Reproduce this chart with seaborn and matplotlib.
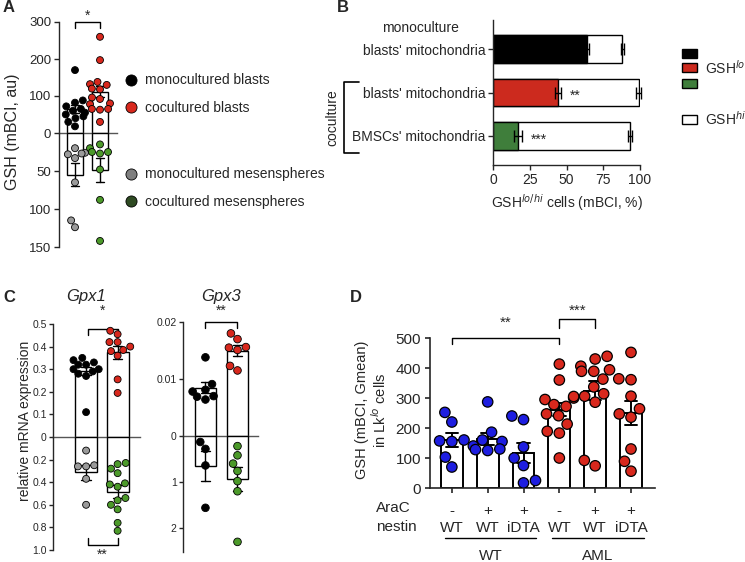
import warnings
import matplotlib
matplotlib.use("Agg")
import matplotlib.pyplot as plt
from matplotlib.patches import Rectangle
from matplotlib.lines import Line2D
import pandas as pd
import seaborn as sns

warnings.filterwarnings("ignore")

# ------------------------------------------------------------------
# data
# ------------------------------------------------------------------
# A - GSH (mBCI, au); blasts above the zero line, mesenspheres below
a_groups = ["mono", "co"]
a_blast_mono = [170, 88, 82, 72, 65, 60, 55, 50, 45, 40, 30, 18]
a_blast_co = [260, 197, 138, 132, 130, 120, 118, 96, 92, 80, 78, 65, 65, 63, 30]
a_mes_mono = [20, 26, 27, 28, 33, 65, 115, 124]
a_mes_co = [15, 20, 25, 25, 27, 48, 88, 142]
a_legend = ["monocultured blasts", "cocultured blasts",
            "monocultured mesenspheres", "cocultured mesenspheres"]

# B - GSH lo / hi cells (%)
b_keys = ["mono", "co_blast", "co_bmsc"]
b_ticklabels = ["blasts' mitochondria", "blasts' mitochondria", "BMSCs' mitochondria"]
b_lo = [64, 44, 17]
b_lo_err = [1.5, 2.0, 2.5]
b_total = [88, 99, 93]
b_total_err = [1.0, 1.5, 1.5]
b_stars = ["", "**", "***"]

# C - relative mRNA expression
gpx1_top_mono = [0.35, 0.34, 0.33, 0.32, 0.32, 0.30, 0.30, 0.29, 0.28, 0.27, 0.11]
gpx1_top_co = [0.47, 0.455, 0.42, 0.42, 0.40, 0.385, 0.38, 0.36, 0.255, 0.195]
gpx1_bot_mono = [0.12, 0.25, 0.26, 0.26, 0.37, 0.60]
gpx1_bot_co = [0.23, 0.24, 0.28, 0.32, 0.41, 0.42, 0.44, 0.54, 0.56, 0.60, 0.64, 0.76, 0.83]
gpx3_top_mono = [0.0138, 0.0091, 0.0081, 0.0078, 0.0070, 0.0069, 0.0064]
gpx3_top_co = [0.018, 0.017, 0.0156, 0.0155, 0.0151, 0.0123, 0.0115]
gpx3_bot_mono = [0.13, 0.28, 0.64, 1.56]
gpx3_bot_co = [0.22, 0.42, 0.60, 0.76, 0.98, 1.2, 2.3]

# D - GSH (mBCI, Gmean) in Lk-lo cells
d_keys = ["g1", "g2", "g3", "g4", "g5", "g6"]
d_arac = ["-", "+", "+", "-", "+", "+"]
d_nestin = ["WT", "WT", "iDTA", "WT", "WT", "iDTA"]
d_values = [
    [252, 220, 160, 157, 155, 103, 70],
    [287, 186, 160, 155, 140, 130, 128, 125],
    [240, 228, 137, 100, 75, 17, 25],
    [413, 360, 300, 295, 305, 272, 278, 247, 241, 213, 183, 189, 100],
    [439, 430, 406, 394, 389, 389, 363, 337, 306, 314, 286, 92, 74],
    [452, 361, 364, 306, 264, 247, 236, 130, 89, 56],
]

RED = "#d8281d"
GRAY = "#9a9a9a"
GREEN = "#4c9a2a"
BLUE = "#1e1ee0"

sns.set_style("ticks")
plt.rcParams["font.family"] = ["Liberation Sans", "DejaVu Sans"]
plt.rcParams["axes.linewidth"] = 1.0
plt.rcParams["xtick.major.width"] = 1.0
plt.rcParams["ytick.major.width"] = 1.0
plt.rcParams["xtick.major.size"] = 3.5
plt.rcParams["ytick.major.size"] = 3.5

W, H = 745, 562
fig = plt.figure(figsize=(W / 100, H / 100), dpi=100)


def box(l, t, r, b):
    return [l / W, 1 - b / H, (r - l) / W, (b - t) / H]


def fx(p):
    return p / W


def fy(p):
    return 1 - p / H


def long_df(groups, series):
    return pd.DataFrame({
        "group": [g for g, s in zip(groups, series) for _ in s],
        "val": [v for s in series for v in s],
    })


def bars_and_dots(ax, df, colors, dot, width, lw=1.0):
    sns.barplot(data=df, x="group", y="val", color="white", edgecolor="black",
                linewidth=lw, width=width, errorbar="se", capsize=0.3,
                err_kws={"color": "black", "linewidth": lw}, ax=ax)
    sns.swarmplot(data=df, x="group", y="val", hue="group",
                  palette=dict(zip(df["group"].unique(), colors)),
                  size=dot, edgecolor="black", linewidth=0.6, legend=False, ax=ax)
    ax.set_xlabel("")
    ax.set_ylabel("")


def split_style(top, bot, zero_color="#555555"):
    for a in (top, bot):
        a.spines["top"].set_visible(False)
        a.spines["right"].set_visible(False)
        a.tick_params(axis="x", length=0, labelbottom=False)
        a.set_facecolor("none")
    top.spines["bottom"].set_color(zero_color)
    bot.spines["bottom"].set_visible(False)


def bracket(ax, x0, x1, y, drop, label, ty, fs=10):
    ax.plot([x0, x0, x1, x1], [y - drop, y, y, y - drop], color="black", lw=1, clip_on=False)
    ax.text((x0 + x1) / 2, ty, label, ha="center", va="center", fontsize=fs)


# ------------------------------------------------------------------
# A
# ------------------------------------------------------------------
ax_at = fig.add_axes(box(59, 22, 117, 133))
ax_ab = fig.add_axes(box(59, 133, 117, 247))
bars_and_dots(ax_at, long_df(a_groups, [a_blast_mono, a_blast_co]), ["black", RED], 5.0, 0.64)
bars_and_dots(ax_ab, long_df(a_groups, [a_mes_mono, a_mes_co]), [GRAY, GREEN], 5.0, 0.64)
for a in (ax_at, ax_ab):
    a.set_xlim(-0.64, 1.68)
ax_at.set_ylim(0, 300)
ax_at.set_yticks([0, 100, 200, 300])
ax_ab.set_ylim(150, 0)
ax_ab.set_yticks([50, 100, 150])
split_style(ax_at, ax_ab)
for a in (ax_at, ax_ab):
    a.tick_params(axis="y", labelsize=9.5, pad=2)
bracket(ax_at, 0, 1, 300, 17, "*", 318)
fig.text(fx(13), fy(132), "GSH (mBCI, au)", rotation=90, ha="center", va="center", fontsize=11.5)

leg_handles = [Line2D([], [], marker="o", ls="none", markersize=8, markerfacecolor=c,
                      markeredgecolor="black", markeredgewidth=0.6)
               for c in ["black", RED, "#7f7f7f", "#2e4a22"]]
for hs, ls, yc in [(leg_handles[:2], a_legend[:2], 94), (leg_handles[2:], a_legend[2:], 188)]:
    fig.legend(hs, ls, loc="center left", bbox_to_anchor=(fx(124), fy(yc)),
               bbox_transform=fig.transFigure, frameon=False, fontsize=10,
               borderpad=0, borderaxespad=0, handlelength=1.0, handletextpad=0.5,
               labelspacing=0.95)

# ------------------------------------------------------------------
# B
# ------------------------------------------------------------------
ax_b = fig.add_axes(box(493, 20, 640, 165))
b_df = pd.DataFrame({"row": b_keys, "lo": b_lo, "total": b_total})
sns.barplot(data=b_df, y="row", x="total", color="white", edgecolor="black", linewidth=1,
            width=0.64, orient="h", errorbar=None, ax=ax_b)
sns.barplot(data=b_df, y="row", x="lo", hue="row",
            palette=dict(zip(b_keys, ["black", "#cc2a1e", "#3f7e3b"])), saturation=1,
            edgecolor="black", linewidth=1, width=0.64, orient="h", errorbar=None,
            legend=False, ax=ax_b)
ax_b.errorbar(b_total, range(3), xerr=b_total_err, fmt="none", ecolor="black",
              elinewidth=1, capsize=4.5, clip_on=False)
ax_b.errorbar(b_lo, range(3), xerr=b_lo_err, fmt="none", ecolor="black",
              elinewidth=1, capsize=4.5, clip_on=False)
for i, s in enumerate(b_stars):
    if s:
        ax_b.text(b_lo[i] + b_lo_err[i] + 6, i + 0.08, s, ha="left", va="center", fontsize=10)
ax_b.set_xlim(0, 100)
ax_b.set_ylim(2.667, -0.667)
ax_b.set_xticks([0, 25, 50, 75, 100])
ax_b.set_yticks(range(3))
ax_b.set_yticklabels(b_ticklabels)
ax_b.tick_params(labelsize=10, pad=2)
ax_b.set_ylabel("")
ax_b.set_xlabel("GSH$^{lo/hi}$ cells (mBCI, %)", fontsize=10, labelpad=4)
sns.despine(ax=ax_b)
ax_b.text(-0.49, -0.48, "monoculture", transform=ax_b.get_yaxis_transform(),
          ha="center", va="center", fontsize=10)
fig.add_artist(Line2D([fx(359), fx(344), fx(344), fx(359)], [fy(82), fy(82), fy(153), fy(153)],
                      color="black", lw=1.2))
fig.text(fx(332), fy(118), "coculture", rotation=90, ha="center", va="center", fontsize=10)

for yc, c in [(53, "black"), (68, "#cc2a1e"), (83, "#3f7e3b"), (119, "white")]:
    fig.add_artist(Rectangle((fx(682), fy(yc + 4.5)), 15 / W, 9 / H, transform=fig.transFigure,
                             facecolor=c, edgecolor="black", lw=1))
fig.text(fx(705), fy(68), "GSH$^{lo}$", ha="left", va="center", fontsize=10)
fig.text(fx(705), fy(119), "GSH$^{hi}$", ha="left", va="center", fontsize=10)

# ------------------------------------------------------------------
# C
# ------------------------------------------------------------------
ax_c1t = fig.add_axes(box(53, 324, 140, 437))
ax_c1b = fig.add_axes(box(53, 437, 140, 550))
bars_and_dots(ax_c1t, long_df(a_groups, [gpx1_top_mono, gpx1_top_co]), ["black", RED], 5, 0.7)
bars_and_dots(ax_c1b, long_df(a_groups, [gpx1_bot_mono, gpx1_bot_co]), [GRAY, GREEN], 5, 0.7)
for a in (ax_c1t, ax_c1b):
    a.set_xlim(-1.05, 1.71)
ax_c1t.set_ylim(0, 0.5)
ax_c1t.set_yticks([0, 0.1, 0.2, 0.3, 0.4, 0.5])
ax_c1t.set_yticklabels(["0", "0.1", "0.2", "0.3", "0.4", "0.5"])
ax_c1b.set_ylim(1.0, 0)
ax_c1b.set_yticks([0.2, 0.4, 0.6, 0.8, 1.0])
ax_c1b.set_yticklabels(["0.2", "0.4", "0.6", "0.8", "1.0"])
split_style(ax_c1t, ax_c1b)
bracket(ax_c1t, 0.05, 1, 0.478, 0.025, "*", 0.56)
ax_c1b.plot([0.05, 0.05, 1, 1], [0.895, 0.955, 0.955, 0.895], color="black", lw=1, clip_on=False)
ax_c1b.text(0.52, 1.045, "**", ha="center", va="center", fontsize=10)

ax_c3t = fig.add_axes(box(183, 322, 258, 436))
ax_c3b = fig.add_axes(box(183, 436, 258, 552))
bars_and_dots(ax_c3t, long_df(a_groups, [gpx3_top_mono, gpx3_top_co]), ["black", RED], 5.5, 0.66)
bars_and_dots(ax_c3b, long_df(a_groups, [gpx3_bot_mono, gpx3_bot_co]), ["black", GREEN], 5.5, 0.66)
for a in (ax_c3t, ax_c3b):
    a.set_xlim(-0.70, 1.64)
ax_c3t.set_ylim(0, 0.02)
ax_c3t.set_yticks([0, 0.01, 0.02])
ax_c3t.set_yticklabels(["0", "0.01", "0.02"])
ax_c3b.set_ylim(2.52, 0)
ax_c3b.set_yticks([1, 2])
ax_c3b.set_yticklabels(["1", "2"])
split_style(ax_c3t, ax_c3b)
bracket(ax_c3t, 0, 1, 0.02, 0.0011, "**", 0.0219)

for a in (ax_c1t, ax_c1b, ax_c3t, ax_c3b):
    a.tick_params(axis="y", labelsize=7.5, pad=1.5, length=3)

fig.text(fx(25), fy(421), "relative mRNA expression", rotation=90, ha="center", va="center", fontsize=10)
fig.text(fx(86), fy(297), "Gpx1", style="italic", ha="center", va="center", fontsize=12)
fig.text(fx(221), fy(297), "Gpx3", style="italic", ha="center", va="center", fontsize=12)

# ------------------------------------------------------------------
# D
# ------------------------------------------------------------------
ax_d = fig.add_axes(box(430, 338, 655, 488))
d_df = long_df(d_keys, d_values)
sns.barplot(data=d_df, x="group", y="val", color="white", edgecolor="black", linewidth=1.4,
            width=0.61, errorbar="se", capsize=0.35,
            err_kws={"color": "black", "linewidth": 1.4}, ax=ax_d)
sns.swarmplot(data=d_df, x="group", y="val", hue="group",
              palette=dict(zip(d_keys, [BLUE] * 3 + [RED] * 3)),
              size=7.5, edgecolor="black", linewidth=0.9, legend=False, ax=ax_d)
ax_d.set_xlim(-0.61, 5.67)
ax_d.set_ylim(0, 500)
ax_d.set_yticks(range(0, 501, 100))
ax_d.set_xticks(range(6))
ax_d.set_xticklabels([f"{a}\n{n}" for a, n in zip(d_arac, d_nestin)], linespacing=1.3)
ax_d.tick_params(axis="both", labelsize=11, width=1.2)
ax_d.tick_params(axis="x", pad=8)
ax_d.tick_params(axis="y", pad=3)
ax_d.set_xlabel("")
ax_d.set_ylabel("")
sns.despine(ax=ax_d)
for sp in ("left", "bottom"):
    ax_d.spines[sp].set_linewidth(1.2)
bracket(ax_d, 0, 3, 500, 20, "**", 550, fs=11)
bracket(ax_d, 3, 4, 562, 28, "***", 590, fs=11)

tr = ax_d.get_xaxis_transform()
for x0, x1, lab in [(-0.2, 2.35, "WT"), (2.8, 5.35, "AML")]:
    ax_d.plot([x0, x1], [-0.333, -0.333], color="black", lw=1, transform=tr, clip_on=False)
    ax_d.text((x0 + x1) / 2, -0.45, lab, transform=tr, ha="center", va="center", fontsize=11)
fig.text(fx(376), fy(508), "AraC", ha="left", va="center", fontsize=11)
fig.text(fx(376), fy(527), "nestin", ha="left", va="center", fontsize=11)
fig.text(fx(372), fy(410), "GSH (mBCI, Gmean)\nin Lk$^{lo}$ cells", rotation=90,
         ha="center", va="center", multialignment="center", fontsize=10.5, linespacing=1.1)

# panel letters
for x, y, s in [(3, 8, "A"), (337, 8, "B"), (3, 297, "C"), (350, 297, "D")]:
    fig.text(fx(x), fy(y), s, fontsize=12, fontweight="bold", ha="left", va="center")

fig.savefig("out.png", dpi=100, facecolor="white")
